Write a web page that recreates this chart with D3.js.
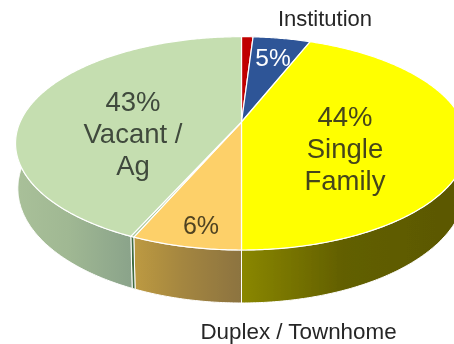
<!DOCTYPE html>
<html>
<head>
<meta charset="utf-8">
<script src="https://cdn.jsdelivr.net/npm/d3@7"></script>
<style>
html, body {margin: 0; padding: 0; background: #fff; overflow: hidden;}
text {font-family: "Liberation Sans", Arial, sans-serif;}
</style>
</head>
<body>
<div id="vis1"></div>
<script>
// Declare constants
const FRAME_WIDTH = 454;
const FRAME_HEIGHT = 344;

// the pie centre sits above the middle of the ellipse because of the perspective
const APEX = {x: 241.5, y: 122};
const PERSP = 0.2;
const SCALE_X = 221.4;
const SCALE_Y = 102.4;
const FLOOR_SHRINK = 0.01;
const FLOOR_DROP = 44.2;

// slices, clockwise from 12 o'clock
const categories = ['Other', 'Institution', 'Single Family', 'Duplex / Townhome', 'Sliver', 'Vacant / Ag'];
const shares = [1, 5, 44, 6.5, 0.2, 43.3];
const topColors = ['#c00000', '#2f5597', '#ffff00', '#fdd069', '#a9c79a', '#c5deb0'];
const wallStart = ['#8c0000', '#203864', '#8a8700', '#bd9a42', '#3f6b3f', '#a9c099'];
const wallMid = ['#8c0000', '#203864', '#625f00', '#a48640', '#3f6b3f', '#a0b893'];
const wallEnd = ['#8c0000', '#203864', '#5a5700', '#8c7340', '#3f6b3f', '#8aa38a'];

const FRAME1 = d3.select("#vis1")
					.append("svg")
						.attr("width", FRAME_WIDTH)
						.attr("height", FRAME_HEIGHT);

const DEFS = FRAME1.append("defs");
DEFS.append("filter").attr("id", "soft")
		.attr("x", 0).attr("y", 0).attr("width", 1).attr("height", 1)
	.append("feGaussianBlur").attr("stdDeviation", 0.6);

const CHART = FRAME1.append("g").attr("filter", "url(#soft)");
CHART.append("rect").attr("width", FRAME_WIDTH).attr("height", FRAME_HEIGHT).attr("fill", "#fff");

const PIE = d3.pie().sort(null).value((d) => {return d})(shares);

// project an angle on the rim of the top face, or of the floor
const top_x = (a) => {return APEX.x + SCALE_X * Math.sin(a) / (1 + PERSP * Math.cos(a))};
const top_y = (a) => {return APEX.y - SCALE_Y * Math.cos(a) / (1 + PERSP * Math.cos(a))};
const floor_x = (a) => {return APEX.x + SCALE_X * Math.sin(a) / (1 + FLOOR_SHRINK + PERSP * Math.cos(a))};
const floor_y = (a) => {return APEX.y + (FLOOR_DROP - SCALE_Y * Math.cos(a)) / (1 + FLOOR_SHRINK + PERSP * Math.cos(a))};

const steps_between = (start, end) => {return d3.range(start, end, 0.01).concat([end])};

// side wall gradients
categories.forEach((c, i) => {
	const grad = DEFS.append("linearGradient").attr("id", "wall" + i);
	grad.append("stop").attr("offset", "0%").attr("stop-color", wallStart[i]);
	grad.append("stop").attr("offset", "45%").attr("stop-color", wallMid[i]);
	grad.append("stop").attr("offset", "100%").attr("stop-color", wallEnd[i]);
});

// only the front half of the pie shows a wall
const WALL = d3.area()
				.x0(top_x).y0(top_y)
				.x1(floor_x).y1(floor_y);

PIE.forEach((d) => {
	const start = Math.max(d.startAngle, Math.PI / 2);
	const end = Math.min(d.endAngle, Math.PI * 1.5);
	if (end <= start) return;
	CHART.append("path")
			.attr("d", WALL(steps_between(start, end)))
			.attr("fill", "url(#wall" + d.index + ")")
			.attr("stroke", "#fff")
			.attr("stroke-width", 1);
});

// top face
const RIM = d3.line().x((p) => {return p[0]}).y((p) => {return p[1]});

CHART.append("g")
		.selectAll("path")
		.data(PIE)
		.enter()
		.append("path")
			.attr("d", (d) => {
				const rim = steps_between(d.startAngle, d.endAngle).map((a) => {return [top_x(a), top_y(a)]});
				return RIM([[APEX.x, APEX.y]].concat(rim)) + "Z";
			})
			.attr("fill", (d) => {return topColors[d.index]})
			.attr("stroke", "#fff")
			.attr("stroke-width", 1.2)
			.attr("stroke-linejoin", "round");

// labels
const labels = [
	{lines: ['43%', 'Vacant /', 'Ag'], x: 133, y: 111, size: 27.5, dy: 32, fill: '#3f4a3c'},
	{lines: ['44%', 'Single', 'Family'], x: 345, y: 126, size: 27.5, dy: 32, fill: '#45451a'},
	{lines: ['6%'], x: 201, y: 234, size: 25, dy: 0, fill: '#4f4322'},
	{lines: ['5%'], x: 273, y: 66, size: 24.5, dy: 0, fill: '#ffffff'},
	{lines: ['Institution'], x: 325, y: 26, size: 22, dy: 0, fill: '#262626'},
	{lines: ['Duplex / Townhome'], x: 298.5, y: 339, size: 22.4, dy: 0, fill: '#262626'}
];

labels.forEach((l) => {
	l.lines.forEach((t, i) => {
		CHART.append("text")
				.attr("x", l.x)
				.attr("y", l.y + i * l.dy)
				.attr("text-anchor", "middle")
				.attr("font-size", l.size + "px")
				.attr("fill", l.fill)
				.text(t);
	});
});
</script>
</body>
</html>
